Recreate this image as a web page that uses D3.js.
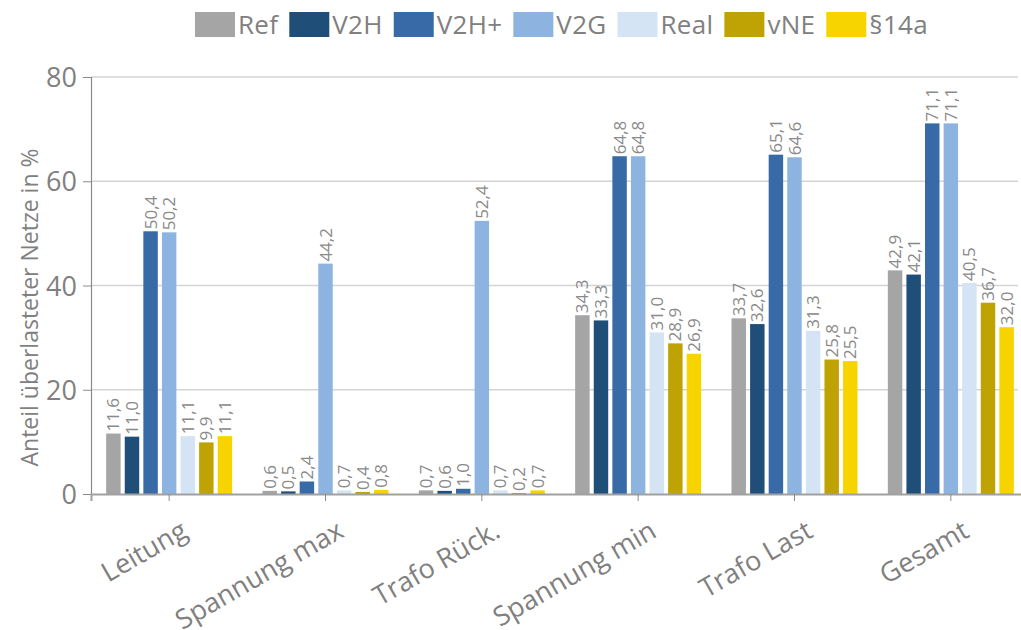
<!DOCTYPE html>
<html>
<head>
<meta charset="utf-8">
<script src="https://cdn.jsdelivr.net/npm/d3@7"></script>
<style>
  body { margin: 0; background: #fff; }
  text { font-family: "Open Sans", "Segoe UI", sans-serif; fill: #808080; }
</style>
</head>
<body>
<script>
  var categories = ['Leitung', 'Spannung max', 'Trafo Rück.', 'Spannung min', 'Trafo Last', 'Gesamt'];
  var series = ['Ref', 'V2H', 'V2H+', 'V2G', 'Real', 'vNE', '§14a'];
  var colors = ['#a5a5a5', '#1f4e79', '#376aa6', '#8db4e0', '#d5e4f4', '#bfa304', '#f7d400'];
  // one array per series, same order as categories
  var ref   = [11.6, 0.6, 0.7, 34.3, 33.7, 42.9];
  var v2h   = [11.0, 0.5, 0.6, 33.3, 32.6, 42.1];
  var v2hp  = [50.4, 2.4, 1.0, 64.8, 65.1, 71.1];
  var v2g   = [50.2, 44.2, 52.4, 64.8, 64.6, 71.1];
  var real  = [11.1, 0.7, 0.7, 31.0, 31.3, 40.5];
  var vne   = [9.9, 0.4, 0.2, 28.9, 25.8, 36.7];
  var p14a  = [11.1, 0.8, 0.7, 26.9, 25.5, 32.0];
  var yTicks = [0, 20, 40, 60, 80];
  var yTitle = 'Anteil überlasteter Netze in %';

  var values = [ref, v2h, v2hp, v2g, real, vne, p14a];

  var w = 1021;
  var h = 630;
  var plotL = 91, plotR = 1029, plotT = 77, plotB = 494;

  var svg = d3.select('body').append('svg')
      .attr('width', w)
      .attr('height', h);

  var x = d3.scaleBand()
      .domain(categories)
      .range([plotL, plotR]);
  var bw = x.bandwidth();
  var x1 = d3.scaleBand()
      .domain(series)
      .range([bw / 2 - 63, bw / 2 + 63])
      .paddingInner(4 / 18);
  var y = d3.scaleLinear()
      .domain([0, 80])
      .range([plotB, plotT]);

  // gridlines
  svg.append('g').selectAll('line')
      .data(yTicks.slice(1))
      .enter().append('line')
      .attr('x1', plotL).attr('x2', 1018)
      .attr('y1', function(d) { return y(d); })
      .attr('y2', function(d) { return y(d); })
      .attr('stroke', '#d4d4d4')
      .attr('stroke-width', 1.3);

  // y axis
  var yAxis = d3.axisLeft(y).tickValues(yTicks).tickSize(8).tickPadding(6);
  var gy = svg.append('g')
      .attr('transform', 'translate(' + plotL + ',0)')
      .call(yAxis);
  gy.select('.domain').attr('stroke', '#8a8a8a').attr('stroke-width', 1.2);
  gy.selectAll('.tick line').attr('stroke', '#8a8a8a');
  gy.selectAll('.tick text')
      .attr('fill', '#808080')
      .style('font-size', '27px')
      .style('font-family', '"Open Sans", sans-serif')
      .attr('dy', '0.36em');

  svg.append('text')
      .attr('transform', 'translate(38,' + ((plotT + plotB) / 2 + 22) + ') rotate(-90)')
      .attr('text-anchor', 'middle')
      .style('font-size', '23px')
      .text(yTitle);

  // bars
  var groups = svg.append('g').selectAll('g')
      .data(categories)
      .enter().append('g')
      .attr('transform', function(d) { return 'translate(' + x(d) + ',0)'; });

  groups.each(function(cat, ci) {
    var g = d3.select(this);
    var rows = series.map(function(s, si) {
      return { s: s, v: values[si][ci], c: colors[si] };
    });
    g.selectAll('rect')
        .data(rows)
        .enter().append('rect')
        .attr('x', function(d) { return x1(d.s); })
        .attr('y', function(d) { return y(d.v); })
        .attr('width', x1.bandwidth())
        .attr('height', function(d) { return y(0) - y(d.v); })
        .attr('fill', function(d) { return d.c; });
    g.selectAll('text')
        .data(rows)
        .enter().append('text')
        .attr('transform', function(d) {
          return 'translate(' + (x1(d.s) + x1.bandwidth() / 2 + 6) + ',' + (y(d.v) - 2) + ') rotate(-90)';
        })
        .style('font-size', '17px')
        .style('fill', '#8a8a8a')
        .text(function(d) { return d3.format('.1f')(d.v).replace('.', ','); });
  });

  // x axis
  var xAxis = d3.axisBottom(x).tickSize(7).tickFormat('');
  var gx = svg.append('g')
      .attr('transform', 'translate(0,' + plotB + ')')
      .call(xAxis);
  gx.select('.domain').attr('stroke', '#a0a0a0').attr('stroke-width', 2);
  gx.selectAll('.tick line').attr('stroke', '#8a8a8a');

  svg.append('g').selectAll('text')
      .data(categories)
      .enter().append('text')
      .attr('transform', function(d) {
        return 'translate(' + (x(d) + bw / 2 + 20) + ',536) rotate(-30)';
      })
      .attr('text-anchor', 'end')
      .style('font-size', '27px')
      .text(function(d) { return d; });

  // legend
  var legend = svg.append('g');
  var lx = 195;
  series.forEach(function(s, i) {
    legend.append('rect')
        .attr('x', lx).attr('y', 12)
        .attr('width', 40).attr('height', 25)
        .attr('fill', colors[i]);
    var t = legend.append('text')
        .attr('x', lx + 43).attr('y', 34)
        .style('font-size', '26px')
        .style('letter-spacing', '0.3px')
        .text(s);
    lx += 43 + t.node().getComputedTextLength() + 11;
  });
</script>
</body>
</html>
